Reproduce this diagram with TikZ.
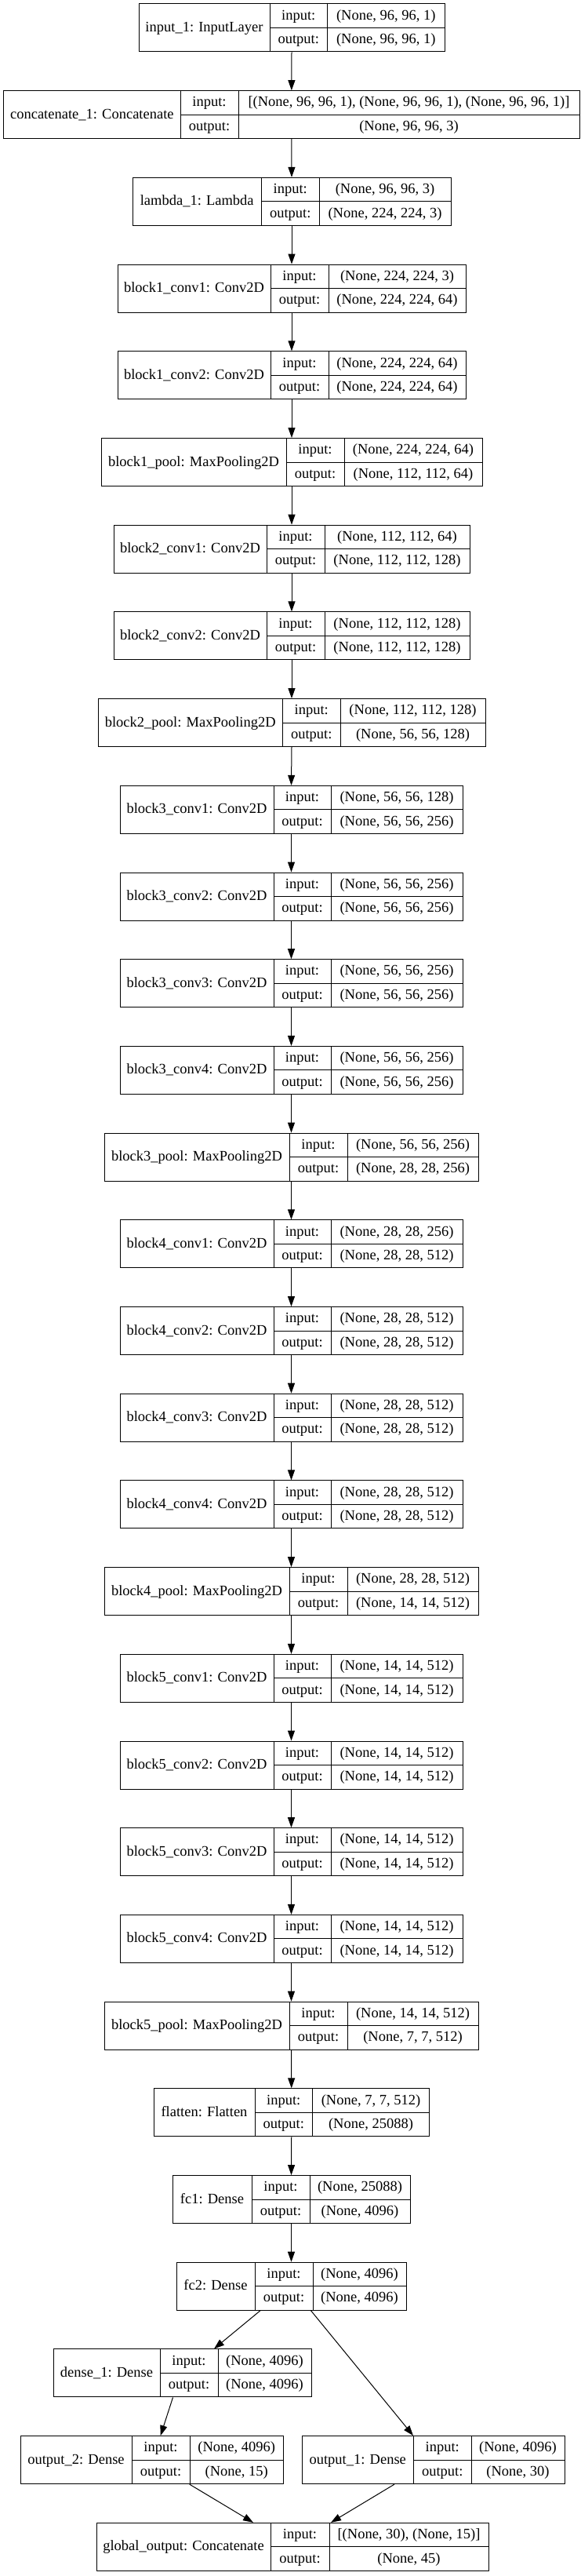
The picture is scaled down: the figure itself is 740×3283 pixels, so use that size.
\documentclass[tikz,border=0pt]{standalone}
\usepackage{fontspec}
\setmainfont{Liberation Serif}
\usetikzlibrary{arrows.meta}

% one keras layer: name, row, x left, x key, x value, x right, label, input, output
\newcommand{\drawlayer}[9]{%
  \pgfmathsetmacro\rowtop{5+(#2-1)*110.7}%
  \node[cell, minimum width={(#6-#3)*1pt}, minimum height=61pt] (#1)
    at ({(#3+#6)/2},{\rowtop+30.5}) {};
  \node[cell, minimum width={(#4-#3)*1pt}, minimum height=61pt] (#1-name)
    at ({(#3+#4)/2},{\rowtop+30.5}) {#7};
  \node[cell, minimum width={(#5-#4)*1pt}] (#1-inkey)
    at ({(#4+#5)/2},{\rowtop+15.25}) {input:};
  \node[cell, minimum width={(#5-#4)*1pt}] (#1-outkey)
    at ({(#4+#5)/2},{\rowtop+45.75}) {output:};
  \node[cell, minimum width={(#6-#5)*1pt}] (#1-in)
    at ({(#5+#6)/2},{\rowtop+15.25}) {#8};
  \node[cell, minimum width={(#6-#5)*1pt}] (#1-out)
    at ({(#5+#6)/2},{\rowtop+45.75}) {#9};
}

\begin{document}
\begin{tikzpicture}[
    x=1pt, y=-1pt,
    cell/.style={draw, line width=1pt, inner sep=0pt, minimum height=30.5pt,
                 text height=13pt, text depth=3pt,
                 font=\fontsize{18.5}{22}\selectfont},
    arr/.style={-{Triangle[length=13pt, width=9pt]}, line width=1pt},
  ]
    \useasboundingbox (0,0) rectangle (740,3283);

    \drawlayer{input1}{1}{177}{344}{417.5}{567}{input\_1: InputLayer}
      {(None, 96, 96, 1)}{(None, 96, 96, 1)}
    \drawlayer{concat1}{2}{4.7}{230}{304}{739}{concatenate\_1: Concatenate}
      {[(None, 96, 96, 1), (None, 96, 96, 1), (None, 96, 96, 1)]}{(None, 96, 96, 3)}
    \drawlayer{lambda1}{3}{169}{333.5}{407}{575}{lambda\_1: Lambda}
      {(None, 96, 96, 3)}{(None, 224, 224, 3)}

    \drawlayer{b1conv1}{4}{150}{345}{419}{594}{block1\_conv1: Conv2D}
      {(None, 224, 224, 3)}{(None, 224, 224, 64)}
    \drawlayer{b1conv2}{5}{150}{345}{419}{594}{block1\_conv2: Conv2D}
      {(None, 224, 224, 64)}{(None, 224, 224, 64)}
    \drawlayer{b1pool}{6}{129}{365}{439}{615}{block1\_pool: MaxPooling2D}
      {(None, 224, 224, 64)}{(None, 112, 112, 64)}

    \drawlayer{b2conv1}{7}{145}{340}{414}{599}{block2\_conv1: Conv2D}
      {(None, 112, 112, 64)}{(None, 112, 112, 128)}
    \drawlayer{b2conv2}{8}{145}{340}{414}{599}{block2\_conv2: Conv2D}
      {(None, 112, 112, 128)}{(None, 112, 112, 128)}
    \drawlayer{b2pool}{9}{125}{360.5}{434}{619}{block2\_pool: MaxPooling2D}
      {(None, 112, 112, 128)}{(None, 56, 56, 128)}

    \drawlayer{b3conv1}{10}{153}{349}{422}{590}{block3\_conv1: Conv2D}
      {(None, 56, 56, 128)}{(None, 56, 56, 256)}
    \drawlayer{b3conv2}{11}{153}{349}{422}{590}{block3\_conv2: Conv2D}
      {(None, 56, 56, 256)}{(None, 56, 56, 256)}
    \drawlayer{b3conv3}{12}{153}{349}{422}{590}{block3\_conv3: Conv2D}
      {(None, 56, 56, 256)}{(None, 56, 56, 256)}
    \drawlayer{b3conv4}{13}{153}{349}{422}{590}{block3\_conv4: Conv2D}
      {(None, 56, 56, 256)}{(None, 56, 56, 256)}
    \drawlayer{b3pool}{14}{133}{369}{443}{610}{block3\_pool: MaxPooling2D}
      {(None, 56, 56, 256)}{(None, 28, 28, 256)}

    \drawlayer{b4conv1}{15}{153}{349}{422}{590}{block4\_conv1: Conv2D}
      {(None, 28, 28, 256)}{(None, 28, 28, 512)}
    \drawlayer{b4conv2}{16}{153}{349}{422}{590}{block4\_conv2: Conv2D}
      {(None, 28, 28, 512)}{(None, 28, 28, 512)}
    \drawlayer{b4conv3}{17}{153}{349}{422}{590}{block4\_conv3: Conv2D}
      {(None, 28, 28, 512)}{(None, 28, 28, 512)}
    \drawlayer{b4conv4}{18}{153}{349}{422}{590}{block4\_conv4: Conv2D}
      {(None, 28, 28, 512)}{(None, 28, 28, 512)}
    \drawlayer{b4pool}{19}{133}{369}{443}{610}{block4\_pool: MaxPooling2D}
      {(None, 28, 28, 512)}{(None, 14, 14, 512)}

    \drawlayer{b5conv1}{20}{153}{349}{422}{590}{block5\_conv1: Conv2D}
      {(None, 14, 14, 512)}{(None, 14, 14, 512)}
    \drawlayer{b5conv2}{21}{153}{349}{422}{590}{block5\_conv2: Conv2D}
      {(None, 14, 14, 512)}{(None, 14, 14, 512)}
    \drawlayer{b5conv3}{22}{153}{349}{422}{590}{block5\_conv3: Conv2D}
      {(None, 14, 14, 512)}{(None, 14, 14, 512)}
    \drawlayer{b5conv4}{23}{153}{349}{422}{590}{block5\_conv4: Conv2D}
      {(None, 14, 14, 512)}{(None, 14, 14, 512)}
    \drawlayer{b5pool}{24}{133}{369}{443}{610}{block5\_pool: MaxPooling2D}
      {(None, 14, 14, 512)}{(None, 7, 7, 512)}

    \drawlayer{flatten}{25}{196}{325}{398.5}{547.5}{flatten: Flatten}
      {(None, 7, 7, 512)}{(None, 25088)}
    \drawlayer{fc1}{26}{220}{321}{395}{523}{fc1: Dense}
      {(None, 25088)}{(None, 4096)}
    \drawlayer{fc2}{27}{225}{325}{399}{518}{fc2: Dense}
      {(None, 4096)}{(None, 4096)}
    \drawlayer{dense1}{28}{68}{204}{278}{397}{dense\_1: Dense}
      {(None, 4096)}{(None, 4096)}
    \drawlayer{output2}{29}{26}{168}{242}{361.5}{output\_2: Dense}
      {(None, 4096)}{(None, 15)}
    \drawlayer{output1}{29}{385}{527.5}{601}{720}{output\_1: Dense}
      {(None, 4096)}{(None, 30)}
    \drawlayer{globalout}{30}{123}{345}{420}{623}{global\_output: Concatenate}
      {[(None, 30), (None, 15)]}{(None, 45)}

    % straight chain
    \foreach \a/\b in {input1/concat1, concat1/lambda1, lambda1/b1conv1,
        b1conv1/b1conv2, b1conv2/b1pool, b1pool/b2conv1, b2conv1/b2conv2,
        b2conv2/b2pool, b2pool/b3conv1, b3conv1/b3conv2, b3conv2/b3conv3,
        b3conv3/b3conv4, b3conv4/b3pool, b3pool/b4conv1, b4conv1/b4conv2,
        b4conv2/b4conv3, b4conv3/b4conv4, b4conv4/b4pool, b4pool/b5conv1,
        b5conv1/b5conv2, b5conv2/b5conv3, b5conv3/b5conv4, b5conv4/b5pool,
        b5pool/flatten, flatten/fc1, fc1/fc2}
      \draw[arr] (\a.south) -- (\b.north);

    % branches
    \draw[arr] ([xshift=-39.5pt]fc2.south)    -- ([xshift=40.5pt]dense1.north);
    \draw[arr] ([xshift=25pt]fc2.south)       -- (output1-inkey.north west);
    \draw[arr] ([xshift=-12pt]dense1.south)   -- ([xshift=11pt]output2.north);
    \draw[arr] ([xshift=48pt]output2.south)   -- ([xshift=-50pt]globalout.north);
    \draw[arr] ([xshift=-49.5pt]output1.south) -- ([xshift=49pt]globalout.north);
  \end{tikzpicture}
\end{document}
